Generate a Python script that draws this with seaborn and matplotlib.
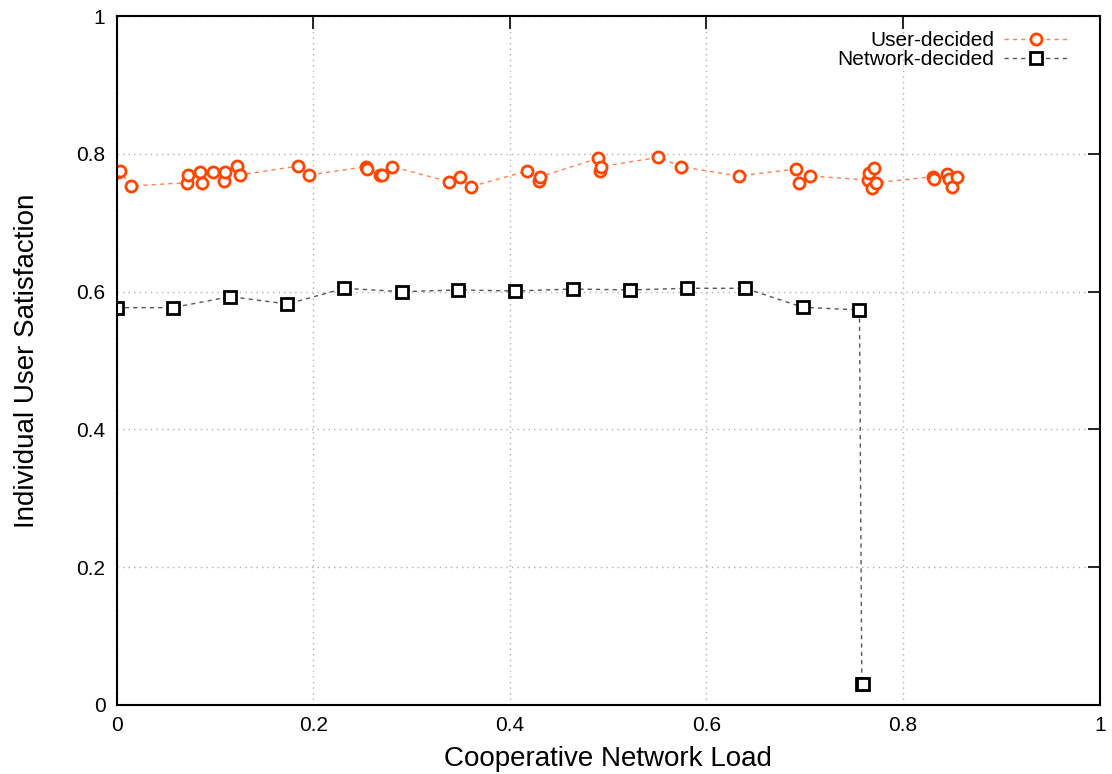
#import the required libraries
import numpy as np
import pandas as pd
import matplotlib
matplotlib.use("Agg")
import matplotlib.pyplot as plt
import seaborn as sns

#data
user_load = [0.0018, 0.0036, 0.0144, 0.0720, 0.0730, 0.0849, 0.0867, 0.0979, 0.1094, 0.1104,
             0.1223, 0.1256, 0.1849, 0.1961, 0.2538, 0.2545, 0.2681, 0.2700, 0.2800, 0.3386,
             0.3494, 0.3603, 0.4179, 0.4300, 0.4308, 0.4901, 0.4919, 0.4929, 0.5512, 0.5740,
             0.6326, 0.6912, 0.6946, 0.7055, 0.7638, 0.7648, 0.7683, 0.7699, 0.7726, 0.8303,
             0.8309, 0.8446, 0.8462, 0.8496, 0.8547]
user_sat = [0.7734, 0.7753, 0.7535, 0.7583, 0.7695, 0.7734, 0.7583, 0.7734, 0.7612, 0.7734,
            0.7826, 0.7695, 0.7826, 0.7695, 0.7816, 0.7782, 0.7695, 0.7700, 0.7816, 0.7598,
            0.7662, 0.7525, 0.7753, 0.7612, 0.7670, 0.7937, 0.7757, 0.7816, 0.7952, 0.7816,
            0.7680, 0.7782, 0.7574, 0.7680, 0.7622, 0.7720, 0.7502, 0.7792, 0.7583, 0.7670,
            0.7632, 0.7705, 0.7632, 0.7525, 0.7661]

net_load = [0.0, 0.0572, 0.1155, 0.1738, 0.2317, 0.2901, 0.3477, 0.4054, 0.4647, 0.5224,
            0.5800, 0.6394, 0.6981, 0.7556, 0.7580, 0.7595]
net_sat = [0.5768, 0.5768, 0.5928, 0.5821, 0.6049, 0.6000, 0.6025, 0.6010, 0.6039, 0.6025,
           0.6049, 0.6049, 0.5773, 0.5734, 0.0300, 0.0295]

ticks = [0, 0.2, 0.4, 0.6, 0.8, 1]
tick_labels = ["0", "0.2", "0.4", "0.6", "0.8", "1"]

user_df = pd.DataFrame({"load": user_load, "sat": user_sat})
net_df = pd.DataFrame({"load": net_load, "sat": net_sat})

sns.set_style("white")
plt.rcParams['font.family'] = ['Liberation Sans', 'DejaVu Sans']
plt.rcParams['text.color'] = 'black'
plt.rcParams['axes.labelcolor'] = 'black'

fig = plt.figure(figsize=(11.12, 7.74), dpi=100)
ax = fig.add_axes([0.1048, 0.0894, 0.8842, 0.8896])

#user-decided series
sns.lineplot(data=user_df, x="load", y="sat", estimator=None, sort=True, ax=ax,
             color="#ff8050", linestyle=(0, (3, 3)), linewidth=1,
             marker="o", markersize=8, markerfacecolor="white",
             markeredgecolor="#ff4500", markeredgewidth=2, label="User-decided")

#network-decided series
sns.lineplot(data=net_df, x="load", y="sat", estimator=None, sort=False, ax=ax,
             color="#555555", linestyle=(0, (3, 3)), linewidth=1,
             marker="s", markersize=8, markerfacecolor="white",
             markeredgecolor="black", markeredgewidth=2, label="Network-decided")

ax.set_xlim(0, 1)
ax.set_ylim(0, 1)
ax.set_xticks(ticks)
ax.set_xticklabels(tick_labels)
ax.set_yticks(ticks)
ax.set_yticklabels(tick_labels)
ax.grid(True, color="#b0b0b0", linestyle=(0, (1, 3)), linewidth=1)
ax.tick_params(direction="in", length=9, width=1.2, top=True, right=True,
               labelsize=15, pad=8, colors="black")
for s in ax.spines.values():
    s.set_color("black")
    s.set_linewidth(1.5)

ax.set_xlabel("Cooperative Network Load", fontsize=20, labelpad=8)
ax.set_ylabel("Individual User Satisfaction", fontsize=20, labelpad=26)

ax.legend(loc="upper right", bbox_to_anchor=(0.975, 0.99), frameon=False,
          markerfirst=False, fontsize=15, handlelength=3, handletextpad=0.5,
          borderaxespad=0.0, labelspacing=0.0)

plt.savefig("out.png", dpi=100)
